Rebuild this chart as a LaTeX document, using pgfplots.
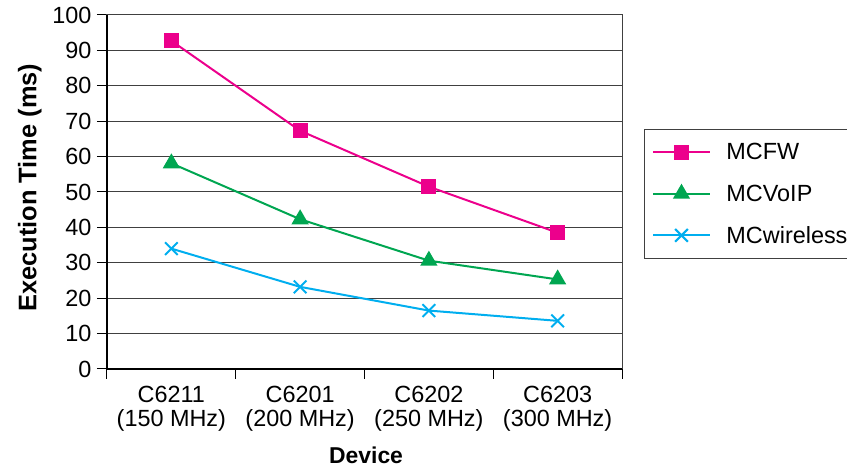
\documentclass[border=0pt]{standalone}
\usepackage{fontspec}
\setmainfont{Liberation Sans}
\usepackage{pgfplots}
\pgfplotsset{compat=1.18}
\definecolor{cfw}{RGB}{236,0,140}
\definecolor{cvoip}{RGB}{0,166,81}
\definecolor{cwl}{RGB}{0,174,239}
\definecolor{gridc}{RGB}{64,64,64}
\pgfplotsset{mylegend/.style={legend image code/.code={\draw[mark repeat=2,mark phase=2,##1,line width=2bp] plot coordinates {(0bp,0bp) (28bp,0bp) (56bp,0bp)};}}}
\begin{document}
\begin{tikzpicture}[x=1bp,y=1bp]
\begin{axis}[
  at={(0,0)}, anchor=south west,
  width=515bp, height=354bp, scale only axis,
  xmin=-0.5, xmax=3.5, ymin=0, ymax=100,
  xtick={-0.5,0.5,1.5,2.5,3.5}, xticklabels={},
  extra x ticks={0,1,2,3},
  extra x tick labels={{C6211\\(150 MHz)},{C6201\\(200 MHz)},{C6202\\(250 MHz)},{C6203\\(300 MHz)}},
  extra x tick style={major tick length=0pt, xticklabel style={align=center, yshift=-14bp}},
  ytick={0,10,...,100},
  yticklabel style={xshift=-2bp},
  tick pos=left,
  ymajorgrids, grid style={gridc, line width=1bp},
  tick align=outside, major tick length=10bp,
  tick style={black, line width=1bp},
  axis line style={gridc, line width=1bp},
  /pgf/number format/assume math mode=true,
  tick label style={font=\fontsize{23.5}{24}\selectfont},
  xlabel={\bfseries Device},
  ylabel={\bfseries Execution Time (ms)},
  xlabel style={font=\fontsize{23}{25}\selectfont, at={(axis description cs:0.503,-0.243)}, anchor=center},
  ylabel style={font=\fontsize{25.5}{27}\selectfont, at={(axis description cs:-0.150,0.512)}, anchor=center, rotate=0},
  legend style={at={(rel axis cs:1.0427,0.678)}, anchor=north west,
    draw=gridc, line width=1bp, font=\fontsize{23.5}{25}\selectfont,
    row sep=19.5bp, inner xsep=8bp, inner ysep=12bp,
    /tikz/every odd column/.append style={column sep=14bp}},
  legend cell align=left,
  clip=false,
]
\addplot[cfw, line width=2bp, mark=square*, mark size=6.5bp, mark options={solid}, mylegend] coordinates {(0,92.7) (1,67.3) (2,51.5) (3,38.5)};
\addlegendentry{MCFW}
\addplot[cvoip, line width=2bp, mark=triangle*, mark size=8bp, mark options={solid}, mylegend] coordinates {(0,58.1) (1,42.3) (2,30.6) (3,25.3)};
\addlegendentry{MCVoIP}
\addplot[cwl, line width=2bp, mark=x, mark size=9bp, mark options={solid}, mylegend] coordinates {(0,34.0) (1,23.2) (2,16.5) (3,13.6)};
\addlegendentry{MCwireless}
\draw[black, line width=2bp] (rel axis cs:0,1) -- (rel axis cs:0,0) -- (rel axis cs:1,0);
\end{axis}
\pgfresetboundingbox
\path[use as bounding box] (-107,-98) rectangle (740,369);
\end{tikzpicture}
\end{document}
